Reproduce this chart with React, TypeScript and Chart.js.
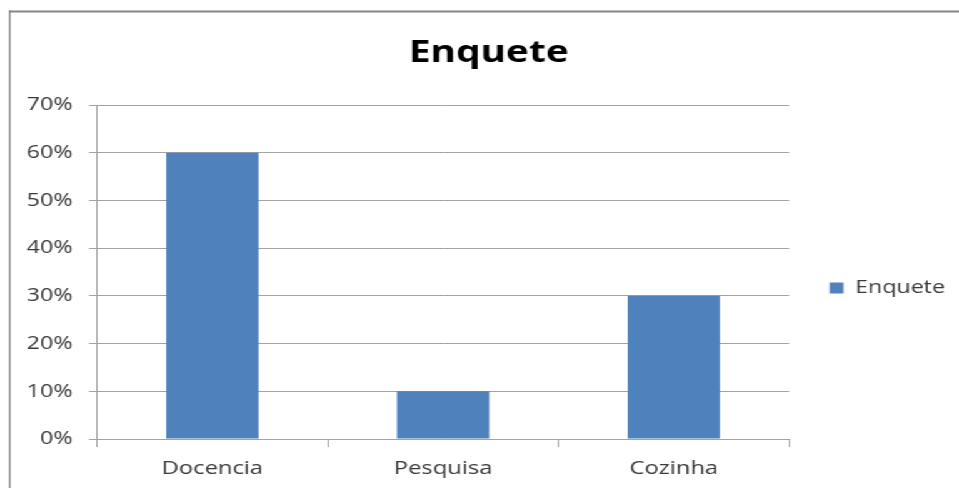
import React, { useEffect, useRef } from "react";
import { Chart, registerables } from "chart.js";

Chart.register(...registerables);

const categories = ["Docencia", "Pesquisa", "Cozinha"];
const seriesLabel = "Enquete";
const values = [0.6, 0.1, 0.3];
const titleText = "Enquete";

const W = 767;
const H = 488;
const SX = 959 / W;

const FONT = "'Open Sans', sans-serif";
const GRID = "#a3a3a3";
const TXT = "#3a3a3a";

const framePlugin = {
  id: "frame",
  beforeDraw(chart: any) {
    const ctx = chart.ctx;
    ctx.save();
    ctx.fillStyle = "#868686";
    ctx.fillRect(7, 10.5, 900, 2);
    ctx.fillRect(7, 10.5, 1.4, 600);
    ctx.restore();
  },
};

export default function App() {
  const ref = useRef<HTMLCanvasElement | null>(null);
  useEffect(() => {
    if (!ref.current) return;
    const chart = new Chart(ref.current, {
      type: "bar",
      data: {
        labels: categories,
        datasets: [
          {
            label: seriesLabel,
            data: values,
            backgroundColor: "#4F81BD",
            borderWidth: 0,
            barPercentage: 0.4,
            categoryPercentage: 1.0,
          },
        ],
      },
      plugins: [framePlugin],
      options: {
        responsive: false,
        animation: false,
        devicePixelRatio: 1,
        layout: { padding: { left: 20.4, right: 5.8, top: 0, bottom: 0 } },
        plugins: {
          title: {
            display: true,
            text: titleText,
            color: "#000",
            font: { family: FONT, size: 31, weight: "bold", lineHeight: 1.2 },
            padding: { top: 35, bottom: 32.8 },
          },
          legend: {
            display: true,
            position: "right",
            fullSize: false,
            maxWidth: 130,
            title: {
              display: true,
              text: "",
              font: { size: 12, lineHeight: 1 },
              padding: { top: 20, bottom: 0 },
            },
            labels: {
              boxWidth: 11,
              boxHeight: 11,
              padding: 32.4,
              color: TXT,
              font: { family: FONT, size: 18.6 },
            },
          },
          tooltip: { enabled: false },
        },
        scales: {
          x: {
            afterFit(scale: any) {
              scale.height = 49;
            },
            grid: {
              display: true,
              drawOnChartArea: false,
              drawTicks: true,
              tickLength: 8,
              color: GRID,
              offset: true,
            },
            border: { display: true, color: GRID },
            ticks: {
              padding: 9.7,
              color: TXT,
              font: { family: FONT, size: 19 },
              maxRotation: 0,
            },
          },
          y: {
            min: 0,
            max: 0.7,
            afterFit(scale: any) {
              scale.width = 57.2;
            },
            grid: {
              display: true,
              drawOnChartArea: true,
              drawTicks: true,
              tickLength: 6.4,
              color: GRID,
            },
            border: { display: true, color: GRID },
            ticks: {
              stepSize: 0.1,
              padding: 13.2,
              color: TXT,
              font: { family: FONT, size: 18.6 },
              callback: (v: any) => `${Math.round(Number(v) * 100)}%`,
            },
          },
        },
      },
    } as any);
    return () => chart.destroy();
  }, []);

  return (
    <div
      style={{
        position: "fixed",
        left: 0,
        top: 0,
        width: W,
        height: H,
        transform: `scaleX(${SX})`,
        transformOrigin: "0 0",
        background: "#fff",
      }}
    >
      <canvas ref={ref} width={W} height={H} style={{ width: W, height: H, display: "block" }} />
    </div>
  );
}
